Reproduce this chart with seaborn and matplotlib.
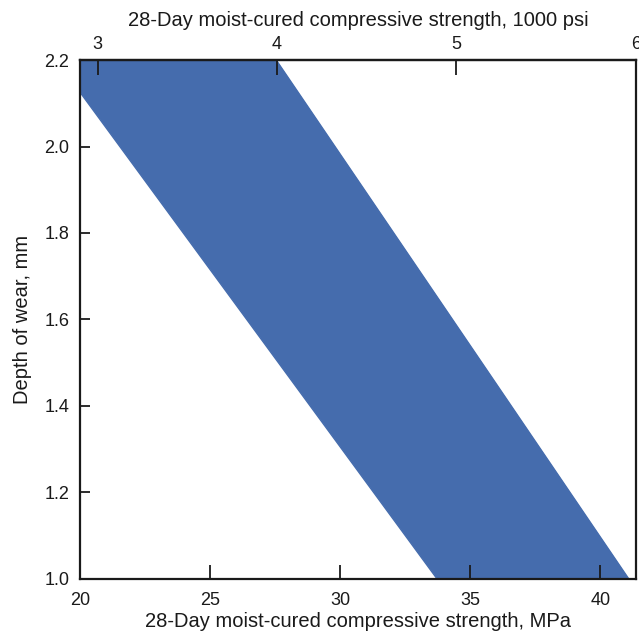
import matplotlib
matplotlib.use("Agg")
import matplotlib.pyplot as plt
import seaborn as sns
import pandas as pd

# Band of depth of wear vs. compressive strength (MPa)
lower_edge_strength = [19.1, 33.72]   # left boundary, MPa
upper_edge_strength = [27.55, 41.09]  # right boundary, MPa
edge_depth = [2.2, 1.0]               # depth of wear, mm

x_ticks = [20, 25, 30, 35, 40]
y_ticks = [1.0, 1.2, 1.4, 1.6, 1.8, 2.0, 2.2]
psi_ticks = [3, 4, 5, 6]
MPA_TO_KSI = 0.145038

band_color = "#456cad"
ink = "#1a1a1a"
fs_label = 14.5
fs_tick = 13

sns.set_theme(style="ticks")
plt.rcParams["font.family"] = ["Liberation Sans", "DejaVu Sans"]

fig = plt.figure(figsize=(6.39, 6.33), dpi=100)
ax = fig.add_axes([0.125, 0.086, 0.870, 0.819])

df = pd.DataFrame({
    "depth": edge_depth * 2,
    "strength": lower_edge_strength + upper_edge_strength,
    "edge": ["lower"] * 2 + ["upper"] * 2,
})
sns.lineplot(data=df, x="strength", y="depth", units="edge", estimator=None,
             color=band_color, lw=1, ax=ax, sort=False, zorder=0.6)
ax.fill_betweenx(edge_depth, lower_edge_strength, upper_edge_strength,
                 color=band_color, lw=0, zorder=0.5)

ax.set_xlim(20, 6 / MPA_TO_KSI)
ax.set_ylim(1.0, 2.2)
ax.set_xticks(x_ticks)
ax.set_yticks(y_ticks)
ax.set_yticklabels([f"{v:.1f}" for v in y_ticks])
ax.set_xlabel("28-Day moist-cured compressive strength, MPa", fontsize=fs_label,
              labelpad=2, color=ink)
ax.set_ylabel("Depth of wear, mm", fontsize=fs_label, labelpad=9, color=ink)
ax.tick_params(axis="both", direction="in", width=1.3, labelsize=fs_tick,
               color=ink, labelcolor=ink)
ax.tick_params(axis="x", length=10, pad=10)
ax.tick_params(axis="y", length=7.5, pad=7.5)
for s in ax.spines.values():
    s.set_linewidth(1.6)
    s.set_color(ink)
    s.set_visible(True)

top = ax.secondary_xaxis("top", functions=(lambda x: x * MPA_TO_KSI,
                                           lambda k: k / MPA_TO_KSI))
top.set_zorder(5)
top.set_xticks(psi_ticks)
top.set_xticklabels([str(t) for t in psi_ticks])
top.tick_params(direction="in", length=11, width=1.3, labelsize=fs_tick, pad=5,
                color=ink, labelcolor=ink)
top.spines["top"].set_linewidth(1.6)
top.spines["top"].set_color(ink)
top.set_xlabel("28-Day moist-cured compressive strength, 1000 psi",
               fontsize=fs_label, labelpad=7, color=ink)

fig.savefig("out.png", dpi=100)
